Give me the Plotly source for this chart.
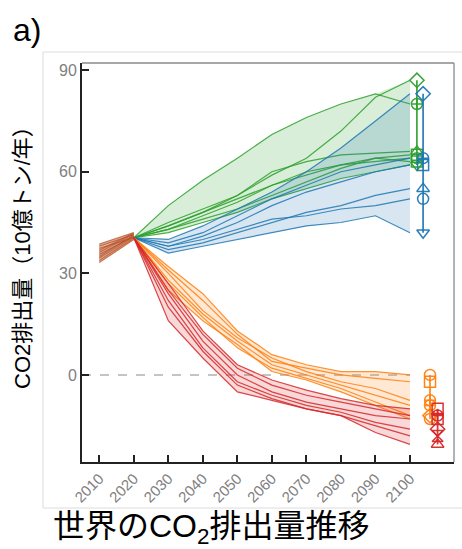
import numpy as np
import plotly.graph_objects as go

# ---------------- data ----------------
hist_years = [2010, 2020]
hist_lines = [
    [33.2, 40.0], [33.8, 40.4], [34.5, 40.8], [35.0, 41.2], [35.6, 41.0],
    [36.2, 41.6], [36.8, 41.9], [37.4, 40.6], [38.0, 41.4], [38.6, 42.0],
]

years = [2020, 2030, 2040, 2050, 2060, 2070, 2080, 2090, 2100]

green_lines = [
    [40.5, 50, 57.5, 64, 71, 76, 80, 83, 80],
    [40.5, 45, 49, 53, 59, 64, 72, 82, 87],
    [40.5, 44, 48, 53, 60, 63, 65, 65.5, 66],
    [40.5, 43, 47, 51, 56, 59, 62, 64, 65],
    [40.5, 44, 48, 52, 56, 60, 62, 63, 64],
    [40.5, 43, 46, 49, 53, 57, 61, 64, 63],
    [40.5, 42, 45, 48, 52, 55, 58, 60, 62],
]
green_symbols = ["circle-cross-open", "diamond-open", "triangle-up-open", "square-open",
                 "circle-open", "square-open", "triangle-down-open"]

blue_lines = [
    [40.5, 40, 44, 49, 54, 60, 67, 75, 83],
    [40.5, 39, 42, 47, 52, 56, 60, 62, 64],
    [40.5, 38, 41, 45, 50, 54, 57, 60, 62],
    [40.5, 37, 39, 42, 45, 48, 50, 53, 55],
    [40.5, 38, 40, 43, 46, 47, 49, 50, 52],
    [40.5, 36, 38, 40, 42, 44, 45, 47, 42],
]
blue_symbols = ["diamond-open", "circle-cross-open", "square-open",
                "triangle-up-open", "circle-open", "triangle-down-open"]

orange_lines = [
    [40.5, 32, 24, 13, 6, 3, 1, 1, 0],
    [40.5, 31, 22, 12, 4, 2, 0, -1, -2],
    [40.5, 30, 19, 11, 5, 1, -2, -4, -7.5],
    [40.5, 28, 18, 10, 3, 0, -3, -6, -9],
    [40.5, 27, 17, 8, 2, -1, -4, -8, -12],
    [40.5, 25, 16, 9, 1, -1.5, -5, -9, -13],
]
orange_symbols = ["circle-open", "square-open", "circle-cross-open",
                  "circle-cross-open", "diamond-open", "circle-open"]

red_lines = [
    [40.5, 27, 13, 3, -1.5, -4.5, -7, -9, -10],
    [40.5, 25, 12, 2, -3, -6, -8, -10, -12],
    [40.5, 24, 10, 0, -5, -8, -10, -12, -13],
    [40.5, 22, 8, -2, -6, -9, -11, -14, -16],
    [40.5, 20, 7, -3, -7, -10, -12, -15, -18],
    [40.5, 16, 5, -5, -7.5, -10, -12, -17, -20.5],
]
red_symbols = ["square-open", "circle-cross-open", "square-open",
               "diamond-open", "hourglass-open", "triangle-up-open"]

marker_x = {"green": 2102, "blue": 2103.8, "orange": 2105.8, "red": 2108}

x_ticks = [2010, 2020, 2030, 2040, 2050, 2060, 2070, 2080, 2090, 2100]
y_ticks = [0, 30, 60, 90]

# ---------------- styles ----------------
colors = {
    "hist": (184, 80, 38),
    "green": (44, 160, 44),
    "blue": (31, 119, 180),
    "orange": (255, 127, 14),
    "red": (214, 39, 40),
}


def rgba(c, a):
    return f"rgba({c[0]},{c[1]},{c[2]},{a})"


fig = go.Figure()


def add_group(xs, lines, col, fill_a=0.18, line_a=0.85, width=1.2):
    arr = np.array(lines, dtype=float)
    hi = arr.max(axis=0)
    lo = arr.min(axis=0)
    fig.add_trace(go.Scatter(
        x=list(xs) + list(xs)[::-1], y=list(hi) + list(lo)[::-1],
        fill="toself", fillcolor=rgba(col, fill_a), mode="none",
        hoverinfo="skip", showlegend=False))
    for ln in lines:
        fig.add_trace(go.Scatter(
            x=xs, y=ln, mode="lines",
            line=dict(color=rgba(col, line_a), width=width),
            showlegend=False, hoverinfo="skip"))


def add_markers(name, lines, symbols):
    col = colors[name]
    ends = [ln[-1] for ln in lines]
    order = np.argsort(ends)
    ys = [ends[i] for i in order]
    syms = [symbols[i] for i in order]
    fig.add_trace(go.Scatter(
        x=[marker_x[name]] * len(ys), y=ys, mode="lines+markers",
        line=dict(color=rgba(col, 0.9), width=1.8),
        marker=dict(symbol=syms, size=11, color=rgba(col, 0.95),
                    line=dict(color=rgba(col, 0.95), width=1.5)),
        showlegend=False, hoverinfo="skip"))


add_group(hist_years, hist_lines, colors["hist"], fill_a=0.35, line_a=0.75, width=1.3)
add_group(years, green_lines, colors["green"])
add_group(years, blue_lines, colors["blue"])
add_group(years, orange_lines, colors["orange"])
add_group(years, red_lines, colors["red"])

add_markers("green", green_lines, green_symbols)
add_markers("blue", blue_lines, blue_symbols)
add_markers("orange", orange_lines, orange_symbols)
add_markers("red", red_lines, red_symbols)

# zero dashed line
fig.add_shape(type="line", xref="x", yref="y", x0=2005, x1=2100, y0=0, y1=0,
              line=dict(color="#c4c4c4", width=2, dash="dash"), layer="below")

# frame top/right (grey)
fig.add_shape(type="line", xref="paper", yref="paper", x0=0, x1=1, y0=1, y1=1,
              line=dict(color="#8a8a8a", width=1.3))
fig.add_shape(type="line", xref="paper", yref="paper", x0=1, x1=1, y0=0, y1=1,
              line=dict(color="#8a8a8a", width=1.3))

# outer light box
L, T, B = 82, 63, 462
W_plot, H_plot = 454 - 82, 462 - 63


def px(x):
    return (x - L) / W_plot


def py(y):
    return (B - y) / H_plot


box_col = "#dcdcdc"
fig.add_shape(type="line", xref="paper", yref="paper", x0=px(43), x1=px(43), y0=py(52), y1=py(508),
              line=dict(color=box_col, width=1))
fig.add_shape(type="line", xref="paper", yref="paper", x0=px(43), x1=px(470), y0=py(52), y1=py(52),
              line=dict(color=box_col, width=1))
fig.add_shape(type="line", xref="paper", yref="paper", x0=px(43), x1=px(470), y0=py(508), y1=py(508),
              line=dict(color=box_col, width=1))

font_fam = "Liberation Sans, Arial, Noto Sans CJK JP, sans-serif"
cjk_fam = "Liberation Sans, Noto Sans CJK JP, sans-serif"

fig.update_layout(
    width=462, height=549,
    margin=dict(l=L, r=462 - 454, t=T, b=549 - B),
    paper_bgcolor="white", plot_bgcolor="white",
    font=dict(family=font_fam),
    xaxis=dict(range=[2005, 2112.75], tickvals=x_ticks, ticktext=[str(t) for t in x_ticks],
               tickangle=-45, ticks="inside", ticklen=7, tickwidth=1.5, tickcolor="#222",
               showline=True, linecolor="#222", linewidth=2, showgrid=False, zeroline=False,
               tickfont=dict(size=15, color="#808080")),
    yaxis=dict(range=[-25.7, 92.1], tickvals=y_ticks, ticks="inside", ticklen=7,
               tickwidth=1.5, tickcolor="#222",
               showline=True, linecolor="#222", linewidth=2, showgrid=False, zeroline=False,
               tickfont=dict(size=16, color="#808080")),
    annotations=[
        dict(text="a)", xref="paper", yref="paper", x=px(11), y=py(30),
             xanchor="left", yanchor="middle", showarrow=False,
             font=dict(size=32, color="black", family=font_fam)),
        dict(text="CO2排出量（10億トン/年）", xref="paper", yref="paper",
             x=px(22), y=py(252), xanchor="center", yanchor="middle", textangle=-90,
             showarrow=False, font=dict(size=22, color="black", family=cjk_fam)),
        dict(text="世界のCO<sub>2</sub>排出量推移", xref="paper", yref="paper",
             x=px(211), y=py(528), xanchor="center", yanchor="middle",
             showarrow=False, font=dict(size=32, color="black", family=cjk_fam)),
    ],
)

fig.write_html("out.html")
